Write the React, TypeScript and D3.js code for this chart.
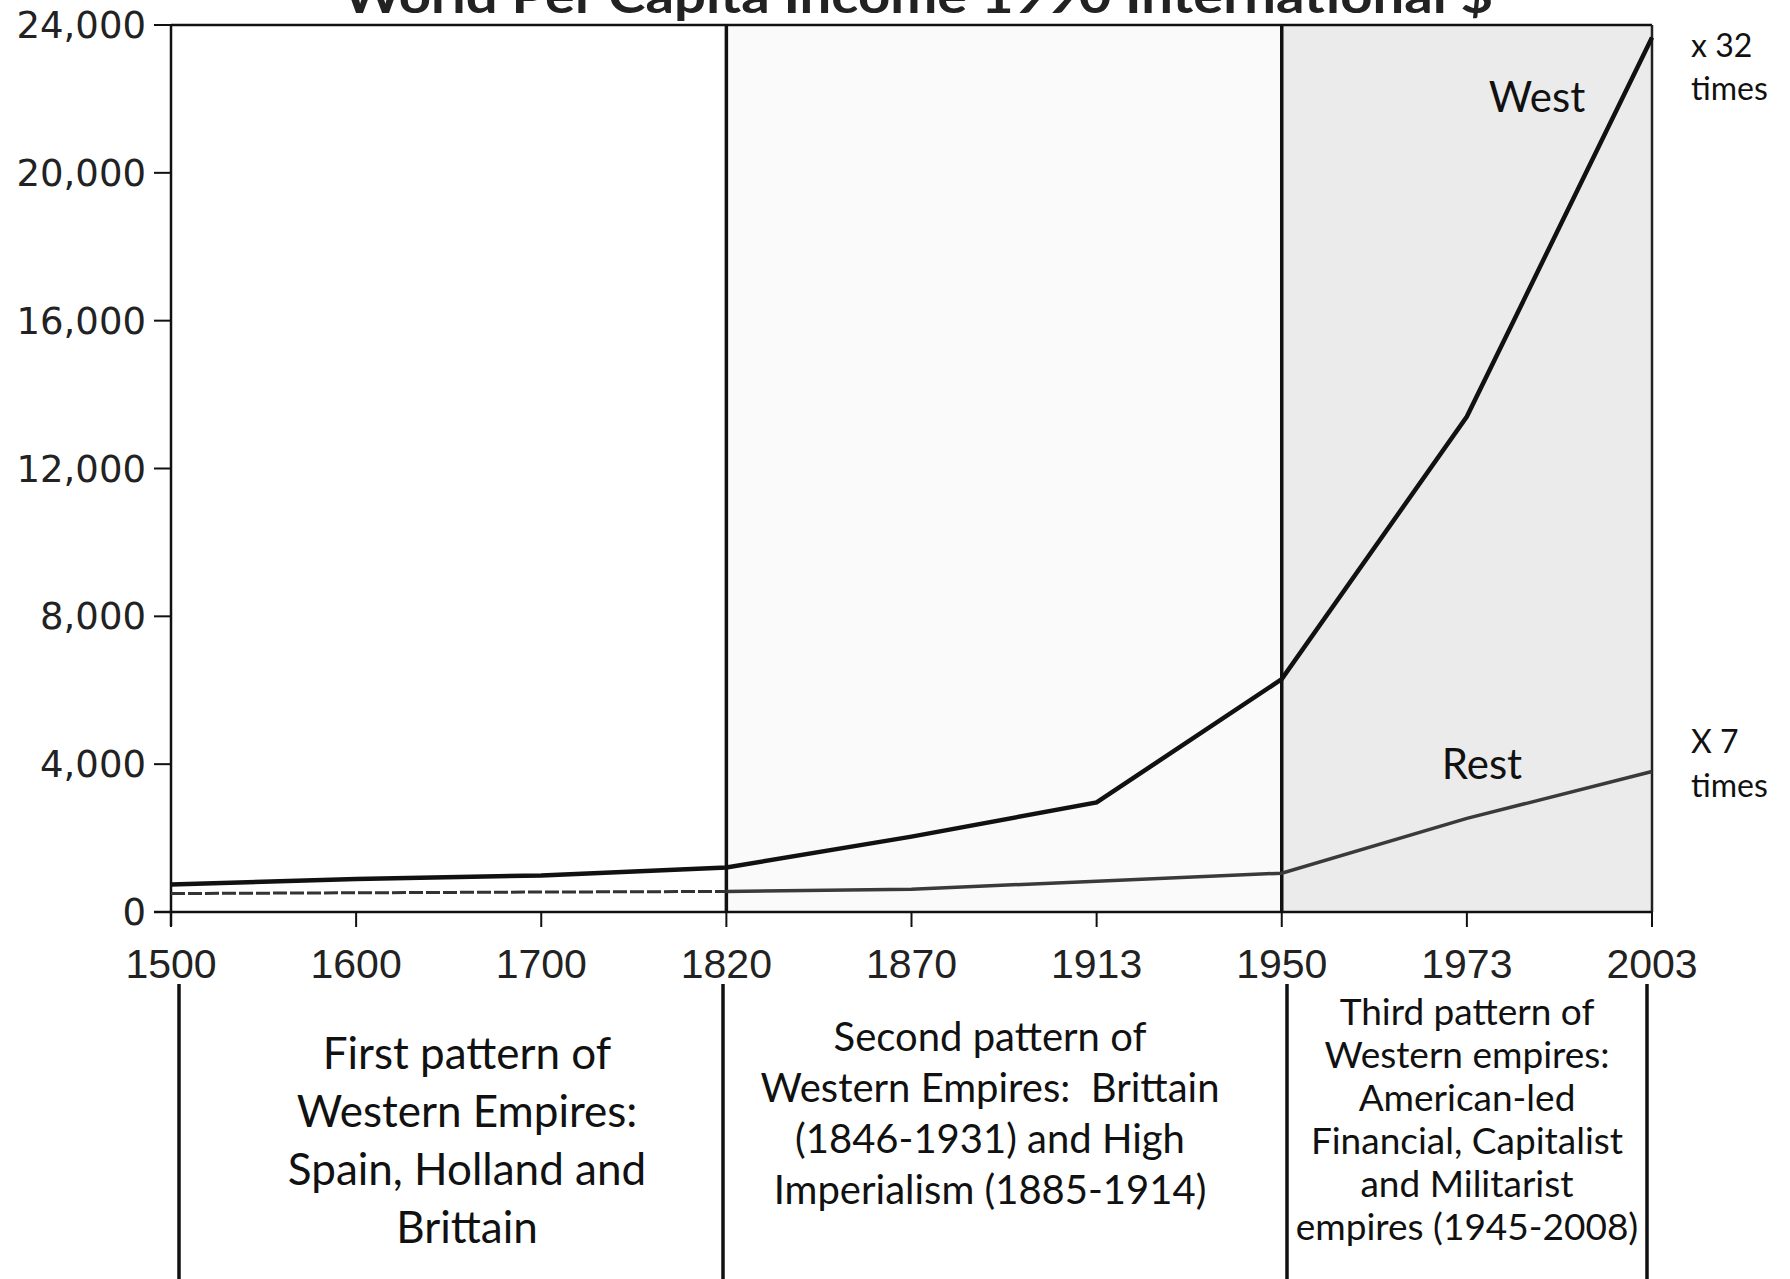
import { scalePoint, scaleLinear, line as d3line } from "d3";

const years = ["1500", "1600", "1700", "1820", "1870", "1913", "1950", "1973", "2003"];
const west = [741, 896, 988, 1205, 2039, 2965, 6301, 13405, 23660];
const rest = [500, 520, 540, 556, 618, 834, 1050, 2533, 3800];
const yTicks = [0, 4000, 8000, 12000, 16000, 20000, 24000];

const periods = [
  { from: "1820", to: "1950", fill: "#fafafa" },
  { from: "1950", to: "2003", fill: "#ebebeb" },
];
const dividers = ["1820", "1950"];

const eraTexts = [
  { lines: ["First pattern of", "Western Empires:", "Spain, Holland and", "Brittain"] },
  { lines: ["Second pattern of", "Western Empires:  Brittain", "(1846-1931) and High", "Imperialism (1885-1914)"] },
  {
    lines: [
      "Third pattern of",
      "Western empires:",
      "American-led",
      "Financial, Capitalist",
      "and Militarist",
      "empires (1945-2008)",
    ],
  },
];

const W = 1790;
const H = 1279;
const left = 171;
const right = 1652;
const top = 25;
const bottom = 912;

export default function App() {
  const x = scalePoint<string>().domain(years).range([left, right]);
  const y = scaleLinear().domain([0, 24000]).range([bottom, top]);

  const pts = (vals: number[]) => years.map((yr, i) => ({ yr, v: vals[i] }));
  const line = d3line<{ yr: string; v: number }>()
    .x((d) => x(d.yr) ?? 0)
    .y((d) => y(d.v));

  const westPath = line(pts(west)) ?? "";
  const restEarly = line(pts(rest).slice(0, 4)) ?? "";
  const restLate = line(pts(rest).slice(3)) ?? "";

  const font = "Lato, 'Open Sans', sans-serif";

  // layout for text boxes under the axis
  const boxes = [
    { cx: 467, first: 1069, step: 58, size: 44 },
    { cx: 990, first: 1051, step: 51, size: 40 },
    { cx: 1467, first: 1025, step: 43, size: 37 },
  ];
  const boxLines = [179, 723, 1287, 1647];

  return (
    <svg
      width={W}
      height={H}
      style={{ position: "absolute", left: 0, top: 0, background: "#fff" }}
    >
      {/* title, clipped at the top edge as in the scan */}
      <text
        x={918}
        y={13}
        textAnchor="middle"
        fontFamily={font}
        fontWeight="bold"
        fontSize={48}
        textLength={1150}
        lengthAdjust="spacingAndGlyphs"
        fill="#222"
      >
        World Per Capita Income 1990 International $
      </text>

      {/* shaded periods */}
      {periods.map((p) => (
        <rect
          key={p.from}
          x={x(p.from)}
          y={top}
          width={(x(p.to) ?? 0) - (x(p.from) ?? 0)}
          height={bottom - top}
          fill={p.fill}
        />
      ))}

      {/* plot frame */}
      <line x1={left} x2={right} y1={top} y2={top} stroke="#111" strokeWidth={2.5} />
      <line x1={right} x2={right} y1={top} y2={bottom} stroke="#222" strokeWidth={2.5} />
      {dividers.map((d) => (
        <line key={d} x1={x(d)} x2={x(d)} y1={top} y2={bottom} stroke="#111" strokeWidth={3.5} />
      ))}

      {/* y axis */}
      <line x1={left} x2={left} y1={top} y2={bottom + 14} stroke="#111" strokeWidth={2.5} />
      {yTicks.map((t) => (
        <g key={t}>
          <line x1={left - 17} x2={left} y1={y(t)} y2={y(t)} stroke="#111" strokeWidth={2} />
          <text
            x={left - 25}
            y={y(t) + 13}
            textAnchor="end"
            fontFamily="'DejaVu Sans', sans-serif"
            fontSize={37}
            fill="#222"
          >
            {t.toLocaleString("en-US")}
          </text>
        </g>
      ))}

      {/* x axis */}
      <line x1={left - 17} x2={right} y1={bottom} y2={bottom} stroke="#111" strokeWidth={2.5} />
      {years.map((yr) => (
        <g key={yr}>
          <line x1={x(yr)} x2={x(yr)} y1={bottom} y2={bottom + 15} stroke="#111" strokeWidth={2} />
          <text
            x={x(yr)}
            y={978}
            textAnchor="middle"
            fontFamily="'Liberation Sans', Arial, sans-serif"
            fontSize={41}
            fill="#222"
          >
            {yr}
          </text>
        </g>
      ))}

      {/* series */}
      <path d={restEarly} fill="none" stroke="#333" strokeWidth={3} strokeDasharray="14 3" />
      <path d={restLate} fill="none" stroke="#3a3a3a" strokeWidth={3.5} />
      <path d={westPath} fill="none" stroke="#111" strokeWidth={4.5} />

      {/* series labels */}
      <text x={1537} y={112} textAnchor="middle" fontFamily={font} fontSize={42} fill="#111">
        West
      </text>
      <text x={1482} y={779} textAnchor="middle" fontFamily={font} fontSize={42} fill="#111">
        Rest
      </text>
      <text x={1691} y={57} fontFamily={font} fontSize={32} fill="#111">
        x 32
      </text>
      <text x={1691} y={100} fontFamily={font} fontSize={32} fill="#111">
        times
      </text>
      <text x={1691} y={753} fontFamily={font} fontSize={32} fill="#111">
        X 7
      </text>
      <text x={1691} y={797} fontFamily={font} fontSize={32} fill="#111">
        times
      </text>

      {/* era boxes */}
      {boxLines.map((bx) => (
        <line key={bx} x1={bx} x2={bx} y1={984} y2={H} stroke="#111" strokeWidth={3.5} />
      ))}
      {eraTexts.map((e, i) => (
        <text
          key={i}
          textAnchor="middle"
          fontFamily={font}
          fontSize={boxes[i].size}
          fill="#111"
        >
          {e.lines.map((l, j) => (
            <tspan key={j} x={boxes[i].cx} y={boxes[i].first + j * boxes[i].step} style={{ whiteSpace: "pre" }}>
              {l}
            </tspan>
          ))}
        </text>
      ))}
    </svg>
  );
}
